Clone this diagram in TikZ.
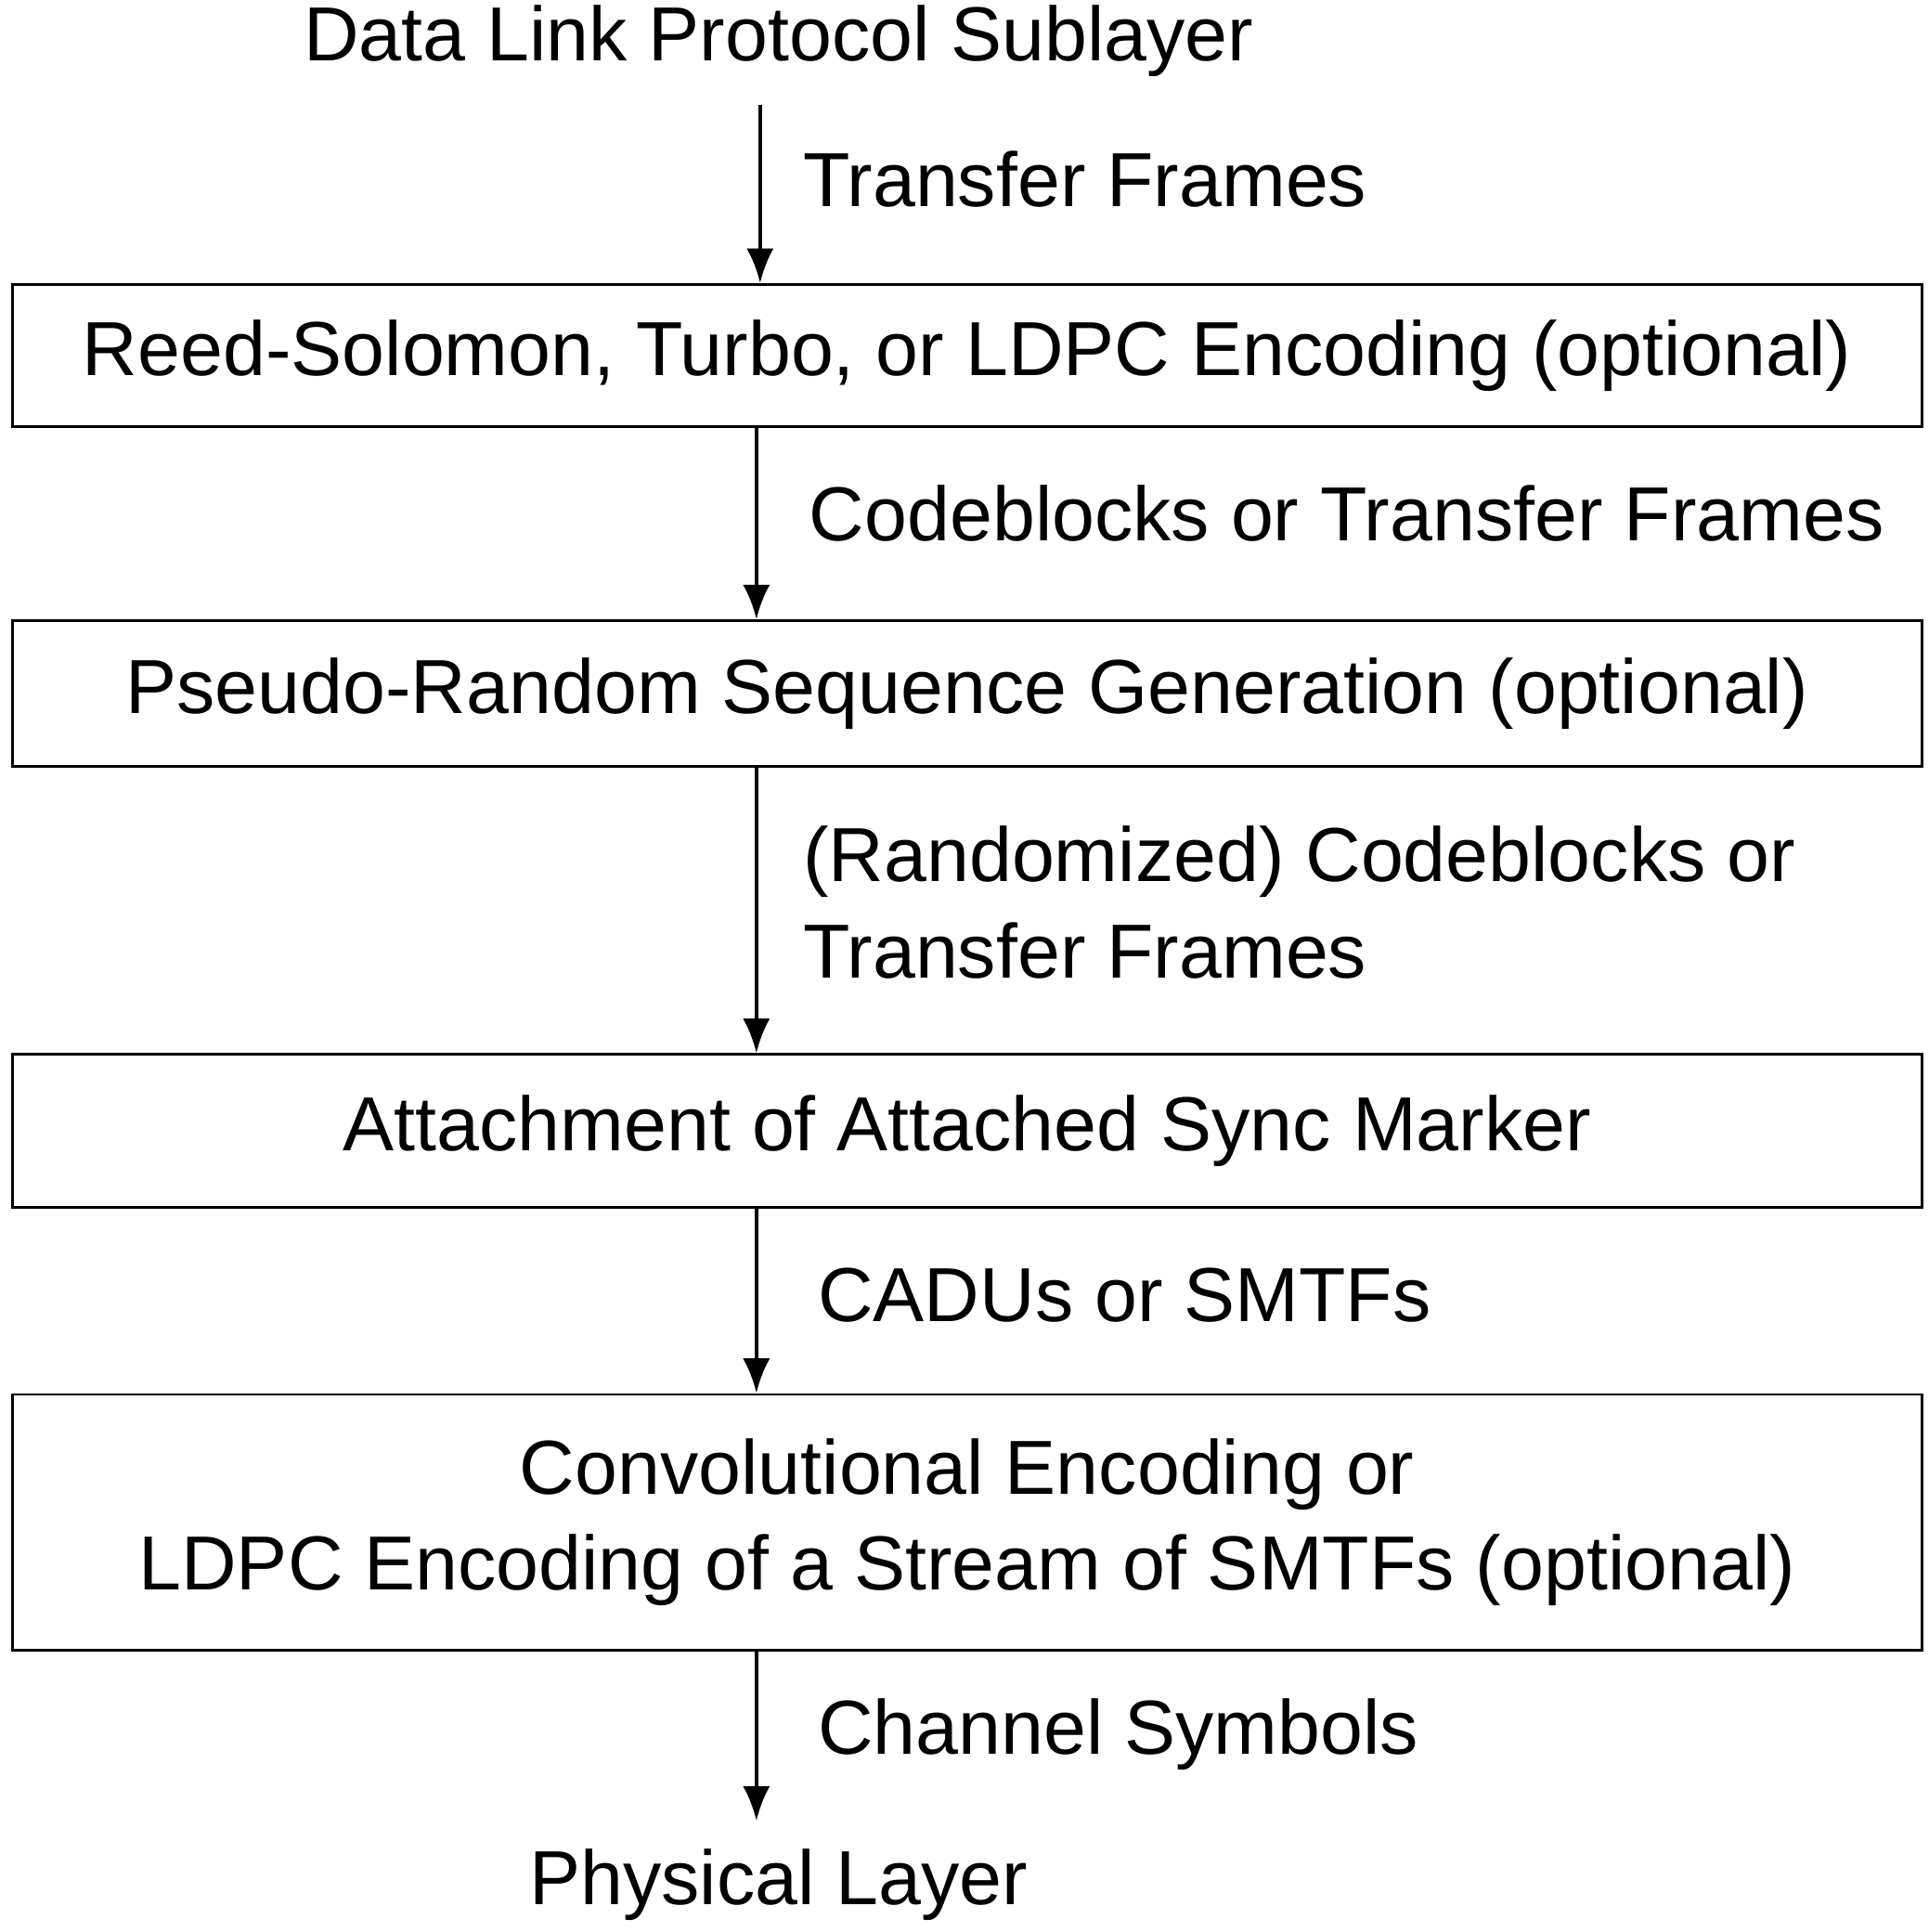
\documentclass[tikz,border=0pt]{standalone}
\usepackage{fontspec}
\setmainfont{Liberation Sans}
\usetikzlibrary{arrows.meta}

\begin{document}
\begin{tikzpicture}[x=0.5pt,y=0.5pt,yscale=-1,
    every node/.style={font=\fontsize{31}{39}\selectfont, inner sep=0.75pt},
    stage/.style={draw, line width=1pt, minimum width=772.5pt, align=center},
    flow/.style={-{Latex[length=14pt,width=11pt]}, line width=1.6pt},
    lbl/.style={anchor=west, align=left}]
        \useasboundingbox (0,0) rectangle (1560,1563);

        % Layers
        \node (top) at (630,33) {Data Link Protocol Sublayer};
        \node (phy) at (630,1525) {Physical Layer};

        % Stages
        \node[stage, minimum height=57.5pt] (rs) at (782.5,287.5) {Reed-Solomon, Turbo, or LDPC Encoding (optional)};
        \node[stage, minimum height=59pt] (prs) at (782.5,561) {Pseudo-Random Sequence Generation (optional)};
        \node[stage, minimum height=62pt] (asm) at (782.5,915) {Attachment of Attached Sync Marker};
        \node[stage, minimum height=103.5pt] (conv) at (782.5,1231.5) {Convolutional Encoding or\\LDPC Encoding of a Stream of SMTFs (optional)};

        % Arrows
        \draw[flow] (615,85) -- (rs.north -| 615,0);
        \draw[flow] (rs.south -| 612,0) -- (prs.north -| 612,0);
        \draw[flow] (prs.south -| 612,0) -- (asm.north -| 612,0);
        \draw[flow] (asm.south -| 612,0) -- (conv.north -| 612,0);
        \draw[flow] (conv.south -| 612,0) -- (612,1473);

        % Text Node
        \node[lbl] (tf) at (648,145) {Transfer Frames};
        \node[lbl] (cb) at (653,415) {Codeblocks or Transfer Frames};
        \node[lbl] (rcb) at (648,730) {(Randomized) Codeblocks or\\Transfer Frames};
        \node[lbl] (cadu) at (660,1048) {CADUs or SMTFs};
        \node[lbl] (sym) at (660,1403) {Channel Symbols};
\end{tikzpicture}
\end{document}
